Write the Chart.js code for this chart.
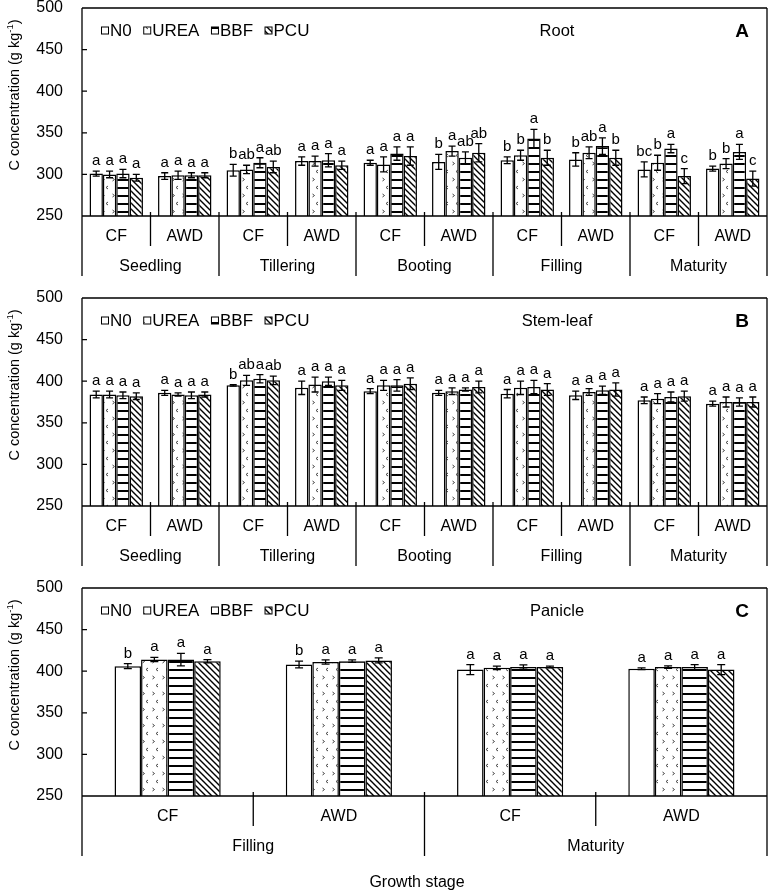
<!DOCTYPE html>
<html>
<head>
<meta charset="utf-8">
<script src="https://cdn.jsdelivr.net/npm/chart.js@4.4.1/dist/chart.umd.min.js"></script>
<style>
  html, body { margin: 0; padding: 0; background: #fff; }
  body { width: 771px; height: 893px; position: relative; overflow: hidden; }
  .panel { position: absolute; left: 0; width: 771px; }
</style>
</head>
<body>
<div class="panel" style="top:0;height:291px"><canvas id="chartRoot"></canvas></div>
<div class="panel" style="top:287px;height:295px"><canvas id="chartStem"></canvas></div>
<div class="panel" style="top:578px;height:315px"><canvas id="chartPanicle"></canvas></div>
<script>
// 1. DATA
const series = ['N0', 'UREA', 'BBF', 'PCU'];
const yTickValues = [250, 300, 350, 400, 450, 500];
const stagesAB = ['Seedling', 'Tillering', 'Booting', 'Filling', 'Maturity'];
const regimesAB = ['CF', 'AWD', 'CF', 'AWD', 'CF', 'AWD', 'CF', 'AWD', 'CF', 'AWD'];
const stagesC = ['Filling', 'Maturity'];
const regimesC = ['CF', 'AWD', 'CF', 'AWD'];

// Root (A)
const rootN0   = [301, 298, 305, 316, 314, 315, 317, 318, 306, 307];
const rootUrea = [300, 299, 306, 316, 312, 328, 323, 326, 314, 313];
const rootBbf  = [301, 299, 314, 317, 325, 320, 343, 334, 331, 327];
const rootPcu  = [296, 299, 309, 311, 322, 326, 320, 320, 298, 295];
const rootErrN0   = [3, 4, 7, 5, 3, 9, 4, 8, 9, 3];
const rootErrUrea = [4, 5, 5, 6, 9, 6, 6, 7, 9, 6];
const rootErrBbf  = [5, 3, 6, 8, 8, 7, 11, 10, 5, 9];
const rootErrPcu  = [4, 3, 7, 5, 11, 11, 9, 9, 9, 9];
const rootLetN0   = ['a', 'a', 'b', 'a', 'a', 'b', 'b', 'b', 'bc', 'b'];
const rootLetUrea = ['a', 'a', 'ab', 'a', 'a', 'a', 'b', 'ab', 'b', 'b'];
const rootLetBbf  = ['a', 'a', 'a', 'a', 'a', 'ab', 'a', 'a', 'a', 'a'];
const rootLetPcu  = ['a', 'a', 'ab', 'a', 'a', 'ab', 'b', 'b', 'c', 'c'];

// Stem-leaf (B)
const stemN0   = [384, 386, 395, 392, 388, 386, 385, 383, 377, 373];
const stemUrea = [384, 384, 401, 396, 395, 388, 392, 387, 379, 375];
const stemBbf  = [383, 383, 403, 400, 395, 390, 393, 389, 381, 375];
const stemPcu  = [382, 384, 401, 395, 397, 393, 390, 390, 382, 375];
const stemErrN0   = [4, 3, 1, 8, 3, 3, 5, 5, 4, 3];
const stemErrUrea = [4, 2, 6, 9, 6, 4, 8, 4, 6, 6];
const stemErrBbf  = [4, 4, 5, 5, 7, 2, 8, 5, 6, 5];
const stemErrPcu  = [4, 3, 5, 6, 7, 7, 7, 8, 6, 6];
const stemLetN0   = ['a', 'a', 'b', 'a', 'a', 'a', 'a', 'a', 'a', 'a'];
const stemLetUrea = ['a', 'a', 'ab', 'a', 'a', 'a', 'a', 'a', 'a', 'a'];
const stemLetBbf  = ['a', 'a', 'a', 'a', 'a', 'a', 'a', 'a', 'a', 'a'];
const stemLetPcu  = ['a', 'a', 'ab', 'a', 'a', 'a', 'a', 'a', 'a', 'a'];

// Panicle (C)
const panN0   = [406, 408, 402, 403];
const panUrea = [414, 411, 404, 405];
const panBbf  = [414, 412, 405, 405];
const panPcu  = [412, 413, 405, 402];
const panErrN0   = [3, 4, 6, 1];
const panErrUrea = [2.5, 2.5, 2, 1.5];
const panErrBbf  = [7.5, 1.5, 2.5, 3];
const panErrPcu  = [2, 3, 1, 6];
const panLetN0   = ['b', 'b', 'a', 'a'];
const panLetUrea = ['a', 'a', 'a', 'a'];
const panLetBbf  = ['a', 'a', 'a', 'a'];
const panLetPcu  = ['a', 'a', 'a', 'a'];

// 2. PATTERNS
const FONT = '"Liberation Sans", Arial, sans-serif';
Chart.defaults.font.family = FONT;
Chart.defaults.color = '#000';

function patron(tipo) {
    const tile = document.createElement('canvas');
    const t = tile.getContext('2d');
    if (tipo === 'dots') {
        tile.width = 10; tile.height = 16;
        t.fillStyle = '#fff'; t.fillRect(0, 0, 10, 16);
        t.strokeStyle = '#444'; t.lineWidth = 1;
        t.beginPath();
        t.moveTo(2.5, 2); t.lineTo(4.5, 3.5); t.lineTo(2.5, 5);
        t.moveTo(8, 10); t.lineTo(6, 11.5); t.lineTo(8, 13);
        t.stroke();
    } else if (tipo === 'hlines') {
        tile.width = 8; tile.height = 8;
        t.fillStyle = '#fff'; t.fillRect(0, 0, 8, 8);
        t.fillStyle = '#000'; t.fillRect(0, 3, 8, 2);
    } else if (tipo === 'diag') {
        tile.width = 6; tile.height = 6;
        t.fillStyle = '#fff'; t.fillRect(0, 0, 6, 6);
        t.strokeStyle = '#000'; t.lineWidth = 1.4;
        t.beginPath();
        t.moveTo(-1, -1); t.lineTo(7, 7);
        t.moveTo(-1, 5); t.lineTo(1, 7);
        t.moveTo(5, -1); t.lineTo(7, 1);
        t.stroke();
    } else {
        tile.width = 4; tile.height = 4;
        t.fillStyle = '#fff'; t.fillRect(0, 0, 4, 4);
    }
    return t.createPattern(tile, 'repeat');
}
const fills = [patron('white'), patron('dots'), patron('hlines'), patron('diag')];

// 3. DECORATION: error bars, letters, frame, separators, legend, titles
const decoPlugin = {
    id: 'deco',
    afterDatasetsDraw(chart, args, o) {
        const ctx = chart.ctx, y = chart.scales.y;
        ctx.save();
        ctx.strokeStyle = '#000'; ctx.fillStyle = '#000'; ctx.lineWidth = 1.3;
        ctx.font = '15px ' + FONT;
        ctx.textAlign = 'center'; ctx.textBaseline = 'alphabetic';
        chart.data.datasets.forEach((ds, i) => {
            chart.getDatasetMeta(i).data.forEach((bar, j) => {
                const top = y.getPixelForValue(ds.data[j] + ds.errors[j]);
                const bot = y.getPixelForValue(ds.data[j] - ds.errors[j]);
                ctx.beginPath();
                ctx.moveTo(bar.x, top); ctx.lineTo(bar.x, bot);
                ctx.moveTo(bar.x - o.cap, top); ctx.lineTo(bar.x + o.cap, top);
                ctx.moveTo(bar.x - o.cap, bot); ctx.lineTo(bar.x + o.cap, bot);
                ctx.stroke();
                ctx.fillText(ds.letters[j], bar.x, top - 6);
            });
        });
        ctx.restore();
    },
    afterDraw(chart, args, o) {
        const ctx = chart.ctx, a = chart.chartArea, x = chart.scales.x, y = chart.scales.y;
        const low = a.bottom + 60;
        ctx.save();
        ctx.strokeStyle = '#000'; ctx.lineWidth = 1.3;
        ctx.beginPath();
        ctx.moveTo(a.left, a.top); ctx.lineTo(a.right, a.top);
        ctx.moveTo(a.left, a.bottom); ctx.lineTo(a.right, a.bottom);
        ctx.moveTo(a.left, a.top); ctx.lineTo(a.left, low);
        ctx.moveTo(a.right, a.top); ctx.lineTo(a.right, low);
        yTickValues.forEach(v => {
            const py = y.getPixelForValue(v);
            ctx.moveTo(a.left, py); ctx.lineTo(a.left + 5, py);
        });
        for (let i = 0; i < x.ticks.length - 1; i++) {
            const px = (x.getPixelForTick(i) + x.getPixelForTick(i + 1)) / 2;
            ctx.moveTo(px, a.bottom - 4);
            ctx.lineTo(px, i % 2 === 0 ? a.bottom + 30 : low);
        }
        ctx.stroke();

        // legend inside the plot
        const ly = a.top + 22.5;
        let lx = a.left + 19.5;
        ctx.font = '17px ' + FONT;
        ctx.textAlign = 'left'; ctx.textBaseline = 'middle';
        chart.data.datasets.forEach(ds => {
            ctx.fillStyle = ds.backgroundColor;
            ctx.fillRect(lx, ly - 3.5, 7, 7);
            ctx.lineWidth = 1; ctx.strokeRect(lx, ly - 3.5, 7, 7);
            ctx.fillStyle = '#000';
            ctx.fillText(ds.label, lx + 8.5, ly + 1);
            lx += 8.5 + ctx.measureText(ds.label).width + 12;
        });

        // panel title and tag
        ctx.textAlign = 'center';
        ctx.font = '16.5px ' + FONT;
        ctx.fillText(o.title, 557, ly + 1);
        ctx.font = 'bold 19px ' + FONT;
        ctx.fillText(o.tag, 742, ly + 1);

        // y axis title with superscript
        ctx.save();
        ctx.translate(15, a.top + 87);
        ctx.rotate(-Math.PI / 2);
        ctx.textAlign = 'left';
        ctx.font = '14.5px ' + FONT;
        const head = 'C concentration (g kg', tail = ')', sup = '-1';
        const w1 = ctx.measureText(head).width, w3 = ctx.measureText(tail).width;
        ctx.font = '9.5px ' + FONT;
        const w2 = ctx.measureText(sup).width;
        let sx = -(w1 + w2 + w3) / 2;
        ctx.font = '14.5px ' + FONT;
        ctx.fillText(head, sx, 0);
        ctx.font = '9.5px ' + FONT;
        ctx.fillText(sup, sx + w1, -5);
        ctx.font = '14.5px ' + FONT;
        ctx.fillText(tail, sx + w1 + w2, 0);
        ctx.restore();

        if (o.xTitle) {
            ctx.font = '16px ' + FONT;
            ctx.textAlign = 'center';
            ctx.fillText(o.xTitle, 417, a.bottom + 87);
        }
        ctx.restore();
    }
};

// 4. CHART BUILDER
function buildChart(id, cfg) {
    return new Chart(document.getElementById(id), {
        type: 'bar',
        data: {
            labels: cfg.regimes,
            datasets: series.map((name, i) => ({
                label: name,
                data: cfg.values[i],
                errors: cfg.errors[i],
                letters: cfg.letters[i],
                backgroundColor: fills[i],
                borderColor: '#000',
                borderWidth: 1.5,
                categoryPercentage: cfg.catPct,
                barPercentage: 1.0
            }))
        },
        options: {
            responsive: true,
            maintainAspectRatio: false,
            animation: false,
            layout: { padding: { top: cfg.padTop, right: 4, left: 0, bottom: cfg.padBottom } },
            plugins: {
                legend: { display: false },
                tooltip: { enabled: false },
                deco: { cap: cfg.cap, title: cfg.title, tag: cfg.tag, xTitle: cfg.xTitle }
            },
            scales: {
                x: {
                    type: 'category', position: 'bottom', offset: true,
                    grid: { display: false, drawTicks: false }, border: { display: false },
                    ticks: { font: { size: 16 }, color: '#000', padding: 11, maxRotation: 0, autoSkip: false },
                    afterFit: s => { s.height = 30; s.paddingLeft = 0; s.paddingRight = 0; }
                },
                x2: {
                    type: 'category', position: 'bottom', offset: true, labels: cfg.stages,
                    grid: { display: false, drawTicks: false }, border: { display: false },
                    ticks: { font: { size: 16 }, color: '#000', padding: 10.5, maxRotation: 0, autoSkip: false },
                    afterFit: s => { s.height = 30; s.paddingLeft = 0; s.paddingRight = 0; }
                },
                y: {
                    min: 250, max: 500,
                    grid: { display: false, drawTicks: false }, border: { display: false },
                    afterBuildTicks: s => { s.ticks = yTickValues.map(v => ({ value: v })); },
                    ticks: { font: { size: 16 }, color: '#000', padding: 19 },
                    afterFit: s => { s.width = 82; s.paddingTop = 0; s.paddingBottom = 0; }
                }
            }
        },
        plugins: [decoPlugin]
    });
}

// 5. INIT
buildChart('chartRoot', {
    regimes: regimesAB, stages: stagesAB,
    values: [rootN0, rootUrea, rootBbf, rootPcu],
    errors: [rootErrN0, rootErrUrea, rootErrBbf, rootErrPcu],
    letters: [rootLetN0, rootLetUrea, rootLetBbf, rootLetPcu],
    catPct: 0.78, cap: 3.5, padTop: 8, padBottom: 15,
    title: 'Root', tag: 'A'
});
buildChart('chartStem', {
    regimes: regimesAB, stages: stagesAB,
    values: [stemN0, stemUrea, stemBbf, stemPcu],
    errors: [stemErrN0, stemErrUrea, stemErrBbf, stemErrPcu],
    letters: [stemLetN0, stemLetUrea, stemLetBbf, stemLetPcu],
    catPct: 0.78, cap: 3.5, padTop: 11, padBottom: 16,
    title: 'Stem-leaf', tag: 'B'
});
buildChart('chartPanicle', {
    regimes: regimesC, stages: stagesC,
    values: [panN0, panUrea, panBbf, panPcu],
    errors: [panErrN0, panErrUrea, panErrBbf, panErrPcu],
    letters: [panLetN0, panLetUrea, panLetBbf, panLetPcu],
    catPct: 0.62, cap: 4, padTop: 10, padBottom: 37,
    title: 'Panicle', tag: 'C', xTitle: 'Growth stage'
});
</script>
</body>
</html>
